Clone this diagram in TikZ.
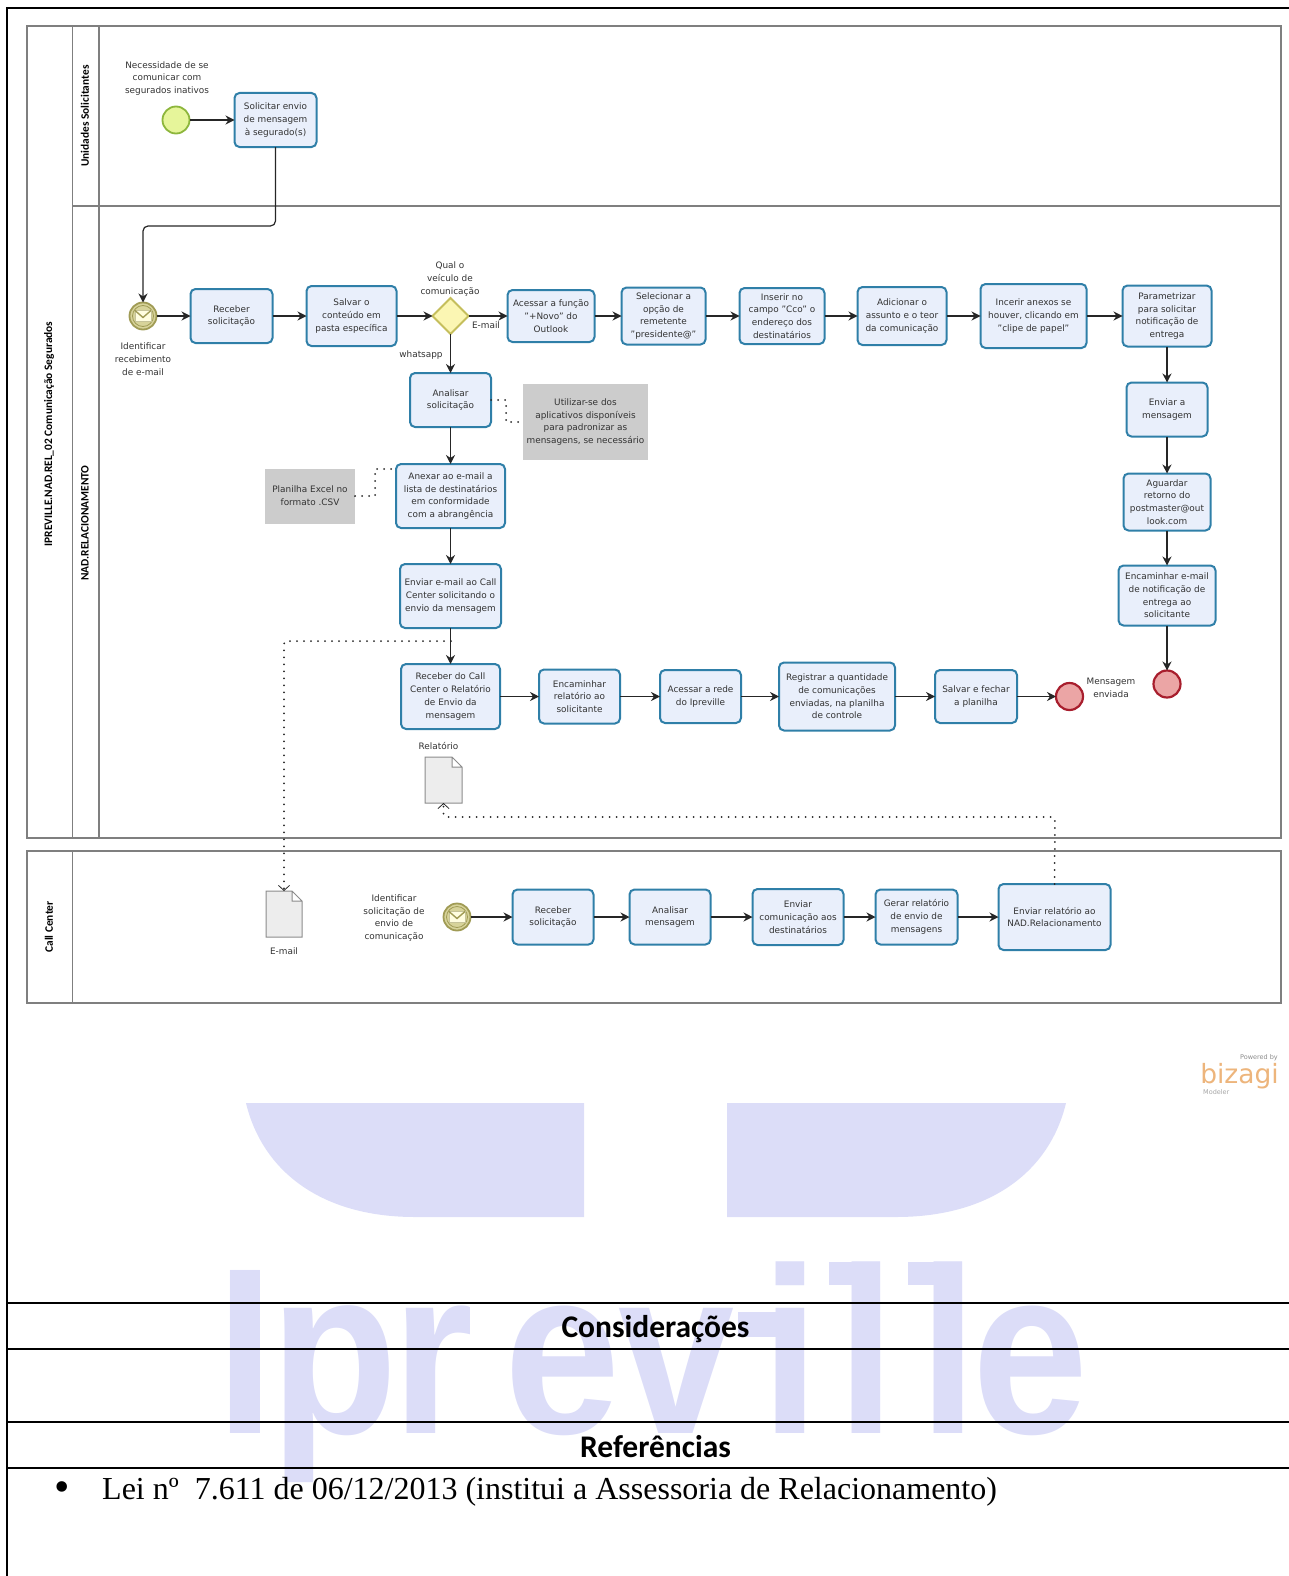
\documentclass[tikz,border=0pt]{standalone}
\usepackage{fontspec}
\setmainfont{DejaVu Sans}
\newfontfamily\headfont{Carlito}
\newfontfamily\docfont{Liberation Serif}
\newfontfamily\markfont{Liberation Sans}
\usepackage{xcolor}
\usepackage{tikz}
\usetikzlibrary{arrows.meta,positioning,shapes.geometric}

\definecolor{taskline}{HTML}{2F7FA8}
\definecolor{taskfill}{HTML}{E9EFFB}
\definecolor{laneline}{HTML}{7F7F7F}
\definecolor{wmark}{HTML}{DCDDF8}
\definecolor{bizorange}{HTML}{EDB57C}
\definecolor{startfill}{HTML}{E6F59A}
\definecolor{startline}{HTML}{8DB63C}
\definecolor{endfill}{HTML}{EBA5A5}
\definecolor{endline}{HTML}{A81E2D}
\definecolor{msgfill}{HTML}{D7D39A}
\definecolor{msgline}{HTML}{A09B55}
\definecolor{gatefill}{HTML}{FBF6B3}
\definecolor{gateline}{HTML}{C5BE5C}

\begin{document}
\begin{tikzpicture}[
    x=1pt,y=-1pt,
    task/.style 2 args={draw=taskline,fill=taskfill,line width=2pt,rounded corners=5pt,
                  align=center,text=black!80,font=\fontsize{8.9}{12.7}\selectfont,inner sep=0pt,outer sep=0pt,
                  minimum width=#1pt,minimum height=#2pt},
    note/.style 2 args={fill=black!20,align=center,text=black!80,font=\fontsize{8.9}{12.7}\selectfont,
                  inner sep=0pt,outer sep=0pt,minimum width=#1pt,minimum height=#2pt},
    lbl/.style={align=center,text=black!80,font=\fontsize{8.9}{12.7}\selectfont,inner sep=0pt},
    lanetitle/.style={rotate=90,font=\headfont\bfseries\fontsize{11.4}{12}\selectfont,inner sep=0pt},
    pool/.style={draw=laneline,line width=1.4pt},
    startev/.style={circle,draw=startline,fill=startfill,line width=1.8pt,
                  minimum size=27pt,inner sep=0pt,outer sep=0pt},
    endev/.style={circle,draw=endline,fill=endfill,line width=2.2pt,
                  minimum size=27pt,inner sep=0pt,outer sep=0pt},
    msgev/.style={circle,draw=msgline,fill=msgfill,line width=1.8pt,
                  minimum size=27pt,inner sep=0pt,outer sep=0pt},
    gate/.style={diamond,draw=gateline,fill=gatefill,line width=1.8pt,
                  minimum size=36pt,inner sep=0pt,outer sep=0pt},
    docshape/.style={minimum width=#1,minimum height=46pt,inner sep=0pt,outer sep=0pt},
    arr/.style={draw=black!85,line width=1.2pt,-{Stealth[length=9pt,width=9pt]}},
    assoc/.style={draw=black!85,line width=2pt,line cap=round,dash pattern=on 0pt off 7pt},
    tablerule/.style={line width=1.6pt}
  ]
  \useasboundingbox (0,0) rectangle (1289,1576);

  % watermark
  \fill[wmark] (246,1103) -- (584,1103) -- (584,1217) -- (415,1217)
       .. controls (320,1217) and (262,1170) .. (246,1103) -- cycle;
  \fill[wmark] (727,1103) -- (1066,1103) .. controls (1050,1170) and (992,1217) .. (896,1217)
       -- (727,1217) -- cycle;
  \node[anchor=base west,inner sep=0pt,text=wmark,xscale=.88,transform shape,
        font=\markfont\bfseries\fontsize{237}{237}\selectfont] (mark) at (216.6,1433)
        {I\kern-5.2pt p\kern-6.3pt r\kern36pt e\kern-2.3pt v\kern31pt i\kern20.5pt l\kern27pt l\kern-6.5pt e};
  \fill[wmark] (738,1312) rectangle (780,1337);
  \fill[wmark] (829,1262) rectangle (856,1285);
  \fill[wmark] (908,1262) rectangle (938,1285);

  % page rules
  \draw[line width=2pt] (1289,8) -- (7,8) -- (7,1576);
  \foreach \y in {1303,1349,1422,1468} \draw[tablerule] (7,\y) -- (1289,\y);

  % pools and lanes
  \draw[pool] (27,26) rectangle (1281,838);
  \draw[pool] (72.5,26) -- (72.5,838);
  \draw[pool] (99,26) -- (99,838);
  \draw[pool] (72.5,206) -- (1281,206);
  \draw[pool] (27,851) rectangle (1281,1003);
  \draw[pool] (72.5,851) -- (72.5,1003);
  \node[lanetitle] (ttlpool) at (49,434) {IPREVILLE.NAD.REL\_02 Comunicação Segurados};
  \node[lanetitle] (ttlunid) at (85,116) {Unidades Solicitantes};
  \node[lanetitle] (ttlnad) at (85,523) {NAD.RELACIONAMENTO};
  \node[lanetitle] (ttlcall) at (49,927) {Call Center};

  % Unidades Solicitantes
  \node[startev] (start) at (176,120) {};
  \node[task={82}{54},right=45pt of start] (solic) {Solicitar envio\\de mensagem\\à segurado(s)};
  \node[lbl] at (167,78.5) {Necessidade de se\\comunicar com\\segurados inativos};

  % NAD, first row
  \node[msgev] (msg1) at (143,316) {};
  \node[task={82}{54},right=34pt of msg1] (receb) {Receber\\solicitação};
  \node[task={90}{60},right=34pt of receb] (salvar) {Salvar o\\conteúdo em\\pasta específica};
  \node[gate,right=36pt of salvar] (qual) {};
  \node[task={87}{52},right=39pt of qual] (acess) {Acessar a função\\"+Novo" do\\Outlook};
  \node[task={84}{57},right=27pt of acess] (selec) {Selecionar a\\opção de\\remetente\\"presidente@"};
  \node[task={85}{56},right=34pt of selec] (inser) {Inserir no\\campo "Cco" o\\endereço dos\\destinatários};
  \node[task={89}{58},right=33pt of inser] (adic) {Adicionar o\\assunto e o teor\\da comunicação};
  \node[task={106}{64},right=34pt of adic] (incer) {Incerir anexos se\\houver, clicando em\\"clipe de papel"};
  \node[task={89}{61},right=36pt of incer] (param) {Parametrizar\\para solicitar\\notificação de\\entrega};
  \node[lbl] at (143,359) {Identificar\\recebimento\\de e-mail};
  \node[lbl] at (450,279) {Qual o\\veículo de\\comunicação};
  \node[lbl] at (486,325) {E-mail};
  \node[lbl] at (421,355) {whatsapp};

  % right column
  \node[task={81}{54},below=36pt of param] (envmsg) {Enviar a\\mensagem};
  \node[task={87}{57},below=37pt of envmsg] (aguar) {Aguardar\\retorno do\\postmaster@out\\look.com};
  \node[task={97}{60},below=35pt of aguar] (encnot) {Encaminhar e-mail\\de notificação de\\entrega ao\\solicitante};
  \node[endev,below=45pt of encnot] (end1) {};

  % whatsapp branch
  \node[task={81}{54},below=39pt of qual] (anali) {Analisar\\solicitação};
  \node[task={109}{64},below=37pt of anali] (anexar) {Anexar ao e-mail a\\lista de destinatários\\em conformidade\\com a abrangência};
  \node[task={101}{64},below=36pt of anexar] (envcall) {Enviar e-mail ao Call\\Center solicitando o\\envio da mensagem};
  \node[task={99}{65},below=36pt of envcall] (recall) {Receber do Call\\Center o Relatório\\de  Envio da\\mensagem};
  \node[note={125}{76},right=32pt of anali.north east,anchor=north west,yshift=-11pt] (noteuti)
        {Utilizar-se dos\\aplicativos disponíveis\\para padronizar as\\mensagens, se necessário};
  \node[note={90}{55},left=41pt of anexar] (noteplan) {Planilha Excel no\\formato .CSV};

  % second row
  \node[task={81}{54},right=39pt of recall] (encrel) {Encaminhar\\relatório ao\\solicitante};
  \node[task={81}{53},right=40pt of encrel] (rede) {Acessar a rede\\do Ipreville};
  \node[task={116}{68},right=38pt of rede] (regis) {Registrar a quantidade\\de comunicações\\enviadas, na planilha\\de controle};
  \node[task={82}{53},right=40pt of regis] (fechar) {Salvar e fechar\\a planilha};
  \node[endev,right=39pt of fechar] (end2) {};
  \node[lbl] at (1111,688) {Mensagem\\enviada};

  \node[docshape=37pt] (docrel) at (443.5,780) {};
  \node[lbl,above=7pt of docrel,xshift=-5pt] {Relatório};

  % Call Center
  \node[msgev] (msg2) at (457,917) {};
  \node[task={81}{55},right=42pt of msg2] (cc1) {Receber\\solicitação};
  \node[task={81}{55},right=36pt of cc1] (cc2) {Analisar\\mensagem};
  \node[task={91}{56},right=42pt of cc2] (cc3) {Enviar\\comunicação aos\\destinatários};
  \node[task={82}{55},right=32pt of cc3] (cc4) {Gerar relatório\\de envio de\\mensagens};
  \node[task={112}{66},right=41pt of cc4] (cc5) {Enviar relatório ao\\NAD.Relacionamento};
  \node[lbl] at (394,918) {Identificar\\solicitação de\\envio de\\comunicação};
  \node[docshape=36pt] (docmail) at (284,914) {};
  \node[lbl,below=11pt of docmail] {E-mail};

  % document corners and envelopes
  \foreach \d in {docrel,docmail}
    \draw[draw=black!45,fill=black!7,line width=1pt] (\d.north west)
      -- ([xshift=-10pt]\d.north east) -- ([yshift=-10pt]\d.north east)
      -- (\d.south east) -- (\d.south west) -- cycle
      ([xshift=-10pt]\d.north east) |- ([yshift=-10pt]\d.north east);
  \foreach \m in {msg1,msg2} {
    \draw[msgline,line width=.8pt] (\m) circle (10.5pt);
    \draw[draw=msgline!60,fill=yellow!12,line width=.6pt] ([shift={(-8pt,-5.5pt)}]\m.center) rectangle ([shift={(8pt,5.5pt)}]\m.center);
    \draw[msgline,line width=1.4pt] ([shift={(-8pt,5.5pt)}]\m.center) -- ([shift={(0pt,-1.5pt)}]\m.center) -- ([shift={(8pt,5.5pt)}]\m.center);
  }

  % flows
  \coordinate (bend1) at (143,226);
  \draw[arr] (start) -- (solic);
  \draw[arr,rounded corners=5pt] (solic.south) |- (bend1) -- (msg1.north);
  \draw[arr] (msg1) -- (receb);
  \draw[arr] (receb) -- (salvar);
  \draw[arr] (salvar) -- (qual);
  \draw[arr] (qual) -- (acess);
  \draw[arr] (acess) -- (selec);
  \draw[arr] (selec) -- (inser);
  \draw[arr] (inser) -- (adic);
  \draw[arr] (adic) -- (incer);
  \draw[arr] (incer) -- (param);
  \draw[arr] (param) -- (envmsg);
  \draw[arr] (envmsg) -- (aguar);
  \draw[arr] (aguar) -- (encnot);
  \draw[arr] (encnot) -- (end1);
  \draw[arr] (qual) -- (anali);
  \draw[arr] (anali) -- (anexar);
  \draw[arr] (anexar) -- (envcall);
  \draw[arr] (envcall) -- (recall);
  \draw[arr] (recall) -- (encrel);
  \draw[arr] (encrel) -- (rede);
  \draw[arr] (rede) -- (regis);
  \draw[arr] (regis) -- (fechar);
  \draw[arr] (fechar) -- (end2);
  \draw[arr] (msg2) -- (cc1);
  \draw[arr] (cc1) -- (cc2);
  \draw[arr] (cc2) -- (cc3);
  \draw[arr] (cc3) -- (cc4);
  \draw[arr] (cc4) -- (cc5);

  % associations
  \coordinate (split) at (451,641);
  \coordinate (bend2) at (284,641);
  \coordinate (bend3) at (1055,817);
  \coordinate (bend4) at (443.5,817);
  \draw[assoc] (anali.east) -- ++(15,0) |- (noteuti.west);
  \draw[assoc] (noteplan.east) -- ++(20,0) |- ([yshift=-5pt]anexar.north west);
  \draw[assoc,rounded corners=3pt,-{Straight Barb[length=5pt,width=11pt,line width=.8pt]}]
        (split) -- (bend2) -- (docmail.north);
  \draw[assoc,rounded corners=3pt,-{Straight Barb[length=5pt,width=11pt,line width=.8pt]}]
        (cc5.north) -- (bend3) -- (bend4) -- (docrel.south);

  % logo
  \node[font=\fontsize{6.5}{7}\selectfont,text=black!45,inner sep=0pt,anchor=east] (logoa) at (1278,1058) {Powered by};
  \node[font=\fontsize{26.5}{27}\selectfont,text=bizorange,inner sep=0pt,anchor=base east] (logob) at (1279,1083) {bizagi};
  \node[font=\fontsize{6.5}{7}\selectfont,text=black!35,inner sep=0pt,anchor=west] (logoc) at (1203,1092) {Modeler};

  % text below
  \node[font=\headfont\bfseries\fontsize{31.5}{32}\selectfont,inner sep=0pt] (consid) at (655.5,1329) {Considerações};
  \node[font=\headfont\bfseries\fontsize{31.5}{32}\selectfont,inner sep=0pt] (refer) at (655.5,1447) {Referências};
  \node[font=\docfont\fontsize{44}{44}\selectfont,inner sep=0pt] (bull) at (62,1492) {•};
  \node[font=\docfont\fontsize{32}{34}\selectfont,inner sep=0pt,anchor=west] (lei) at (102,1492)
        {Lei nº\ \ 7.611 de 06/12/2013 (institui a Assessoria de Relacionamento)};
\end{tikzpicture}
\end{document}
